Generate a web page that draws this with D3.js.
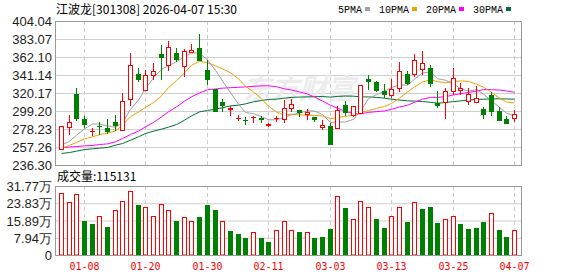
<!DOCTYPE html>
<html>
<head>
<meta charset="utf-8">
<script src="https://cdn.jsdelivr.net/npm/d3@7"></script>
<style>
  body { margin: 0; background: #fff; }
  svg { display: block; }
</style>
</head>
<body>
<script>
const width = 578;
const height = 276;

// trading days shown (60)
const dates = [
  "01-05","01-06","01-07","01-08","01-09","01-12","01-13","01-14","01-15","01-16",
  "01-19","01-20","01-21","01-22","01-23","01-26","01-27","01-28","01-29","01-30",
  "02-02","02-03","02-04","02-05","02-06","02-09","02-10","02-11","02-12","02-13",
  "02-24","02-25","02-26","02-27","03-02","03-03","03-04","03-05","03-06","03-09",
  "03-10","03-11","03-12","03-13","03-16","03-17","03-18","03-19","03-20","03-23",
  "03-24","03-25","03-26","03-27","03-30","03-31","04-01","04-02","04-03","04-07"
];

const open = [
  255.7, 281.3, 319.8, 289.9, 276.4, 282.6, 280.5, 286.4, 277.8, 313.9,
  343.4, 324.4, 341.5, 365.6, 353.1, 367.9, 352.0, 368.3, 372.6, 348.1,
  325.2, 310.8, 302.4, 291.6, 289.3, 292.4, 292.2, 283.8, 291.6, 291.0,
  303.4, 301.5, 296.4, 293.3, 280.9, 282.1, 280.1, 307.3, 295.3, 297.6,
  337.6, 333.3, 323.2, 318.2, 327.1, 343.0, 343.0, 348.9, 350.4, 308.9,
  310.0, 323.2, 324.8, 311.2, 310.4, 301.9, 319.0, 299.9, 291.0, 292.2
];
const high = [
  282.5, 294.9, 326.0, 294.1, 280.5, 287.1, 289.9, 294.9, 321.3, 367.1,
  349.3, 348.1, 356.2, 377.2, 381.1, 373.7, 371.8, 378.4, 390.0, 359.0,
  325.2, 314.3, 305.8, 294.9, 292.6, 294.1, 293.7, 286.0, 294.1, 312.4,
  313.5, 301.5, 302.3, 293.3, 289.5, 286.0, 305.4, 311.2, 305.4, 330.3,
  341.5, 335.3, 331.0, 337.6, 357.0, 346.2, 365.6, 369.1, 353.1, 323.2,
  326.0, 350.4, 332.9, 326.7, 329.1, 305.0, 322.1, 304.6, 294.1, 301.5
];
const low = [
  255.7, 272.8, 289.1, 280.9, 271.6, 273.5, 274.3, 277.4, 277.8, 307.3,
  334.5, 324.4, 337.6, 337.6, 348.1, 357.8, 340.3, 368.3, 359.0, 331.4,
  300.3, 300.3, 294.9, 289.1, 285.2, 287.1, 286.7, 282.1, 287.9, 287.1,
  300.3, 294.1, 290.2, 288.7, 279.0, 261.9, 280.1, 295.3, 294.1, 297.6,
  325.2, 322.9, 316.3, 315.9, 322.9, 331.4, 340.7, 343.4, 329.1, 304.6,
  291.8, 319.4, 319.4, 308.1, 310.4, 292.2, 294.9, 289.1, 286.0, 288.7
];
const close = [
  282.5, 287.1, 292.2, 284.4, 276.9, 282.3, 276.3, 284.0, 312.0, 353.9,
  336.8, 341.9, 346.5, 362.5, 374.9, 360.9, 369.1, 371.0, 359.0, 336.8,
  300.3, 306.5, 302.9, 292.0, 288.9, 292.8, 289.9, 284.1, 292.0, 303.4,
  308.1, 298.3, 298.8, 289.9, 283.2, 261.9, 301.1, 298.8, 305.4, 330.3,
  334.5, 324.8, 320.1, 325.6, 346.5, 332.2, 359.4, 356.2, 332.9, 306.5,
  323.2, 338.4, 327.1, 319.8, 315.1, 296.8, 299.6, 289.1, 286.0, 296.8
];

// volume, in 万 shares
const volume = [
  28.8, 24.5, 28.2, 15.8, 14.4, 18.4, 13.0, 20.8, 25.0, 29.6,
  23.2, 22.2, 18.4, 23.6, 20.8, 15.8, 17.5, 16.1, 17.5, 23.2,
  20.9, 15.7, 11.2, 9.8, 7.9, 11.0, 7.9, 6.0, 11.9, 16.1,
  11.9, 10.7, 11.0, 7.9, 8.4, 12.1, 27.3, 21.9, 17.0, 25.0,
  22.2, 16.7, 12.6, 18.4, 22.2, 15.3, 24.5, 21.4, 22.3, 14.9,
  17.0, 18.4, 14.4, 12.1, 12.6, 15.3, 19.4, 11.6, 8.4, 11.5131
];

// moving-average values before the window is full (history not on screen)
const ma5Head = [260.0, 264.5, 271.5, 279.0];
const ma10Head = [256.3, 259.8, 263.1, 267.2, 269.7, 272.2, 274.1, 276.5, 283.4];
const ma20Head = [257.0, 257.8, 258.4, 259.2, 259.6, 260.7, 261.5, 263.9, 267.7, 272.4,
                  276.3, 281.3, 286.4, 293.0, 298.8, 304.6, 311.2, 316.3, 320.8];
const ma30Head = [250.3, 251.4, 253.0, 254.9, 255.7, 256.5, 257.3, 260.0, 261.9, 265.8,
                  269.7, 273.6, 276.3, 278.6, 281.0, 284.0, 289.1, 294.1, 298.8, 300.4,
                  301.9, 303.5, 305.8, 306.6, 308.1, 310.5, 312.0, 313.2, 313.6];

const priceTicks = ["404.04", "383.07", "362.10", "341.14", "320.17", "299.20", "278.23", "257.26", "236.30"];
const volTicks = ["31.77", "23.83", "15.89", "7.94", "0"];
const maNames = ["5PMA", "10PMA", "20PMA", "30PMA"];
const maPeriods = [5, 10, 20, 30];
const maColors = ["#a0a0a0", "#f0a000", "#ff00ff", "#007030"];

const title = "江波龙[301308] 2026-04-07 15:30";

const RED = "#ff0000";
const GREEN = "#008000";

const svg = d3.select("body").append("svg")
  .attr("width", width)
  .attr("height", height);

// layout
const left = 56, right = 522;
const pTop = 21, pBottom = 165;
const vTop = 186, vBottom = 255;

const x = d3.scaleBand().domain(d3.range(dates.length)).range([57, 518]);
const cx = i => Math.round(x(i) + x.bandwidth() / 2);

const y = d3.scaleLinear()
  .domain([+priceTicks[priceTicks.length - 1], +priceTicks[0]])
  .range([pBottom + 0.5, pTop + 0.5]);
const yv = d3.scaleLinear()
  .domain([0, +volTicks[0]])
  .range([vBottom + 0.5, vTop + 0.5]);

// moving averages
function movingAvg(n, head) {
  return close.map((c, i) => {
    if (i < n - 1) return head[i];
    return d3.mean(close.slice(i - n + 1, i + 1));
  });
}
const heads = [ma5Head, ma10Head, ma20Head, ma30Head];
const maSeries = maPeriods.map((n, k) => movingAvg(n, heads[k]));

// label indices for x axis (every 8th bar)
const labelIdx = d3.range(dates.length).filter(i => i % 8 === 3);

// ---------- grid ----------
const grid = svg.append("g");

// horizontal price grid
grid.selectAll(".pg")
  .data(priceTicks.slice(1, -1))
  .enter().append("line")
  .attr("x1", left).attr("x2", right)
  .attr("y1", d => y(+d)).attr("y2", d => y(+d))
  .attr("stroke", "#cfcfcf");

// horizontal volume grid
grid.selectAll(".vg")
  .data(volTicks.slice(1, -1))
  .enter().append("line")
  .attr("x1", left).attr("x2", right)
  .attr("y1", d => yv(+d)).attr("y2", d => yv(+d))
  .attr("stroke", "#cfcfcf");

// vertical dashed lines
[[pTop, pBottom], [vTop, vBottom]].forEach(([t, b]) => {
  grid.selectAll(null)
    .data(labelIdx)
    .enter().append("line")
    .attr("x1", i => cx(i) + 0.5).attr("x2", i => cx(i) + 0.5)
    .attr("y1", t).attr("y2", b)
    .attr("stroke", "#cccccc")
    .attr("stroke-dasharray", "4,3");
});

// watermark
svg.append("text")
  .attr("x", 243).attr("y", 99)
  .style("font-family", "'Noto Sans CJK SC', sans-serif")
  .style("font-size", "28px")
  .style("font-weight", "bold")
  .style("font-style", "italic")
  .attr("fill", "#ececec")
  .text("东方财富");

// ---------- moving average lines ----------
const line = d3.line()
  .x((d, i) => cx(i) + 0.5)
  .y(d => y(d));

svg.append("g").selectAll("path")
  .data(maSeries.slice().reverse())
  .enter().append("path")
  .attr("d", line)
  .attr("fill", "none")
  .attr("stroke", (d, k) => maColors[maColors.length - 1 - k])
  .attr("stroke-width", 1);

// ---------- candles ----------
const candles = svg.append("g").selectAll("g")
  .data(d3.range(dates.length))
  .enter().append("g");

candles.each(function(i) {
  const g = d3.select(this);
  const up = close[i] >= open[i];
  const col = up ? RED : GREEN;
  const xc = cx(i);
  g.append("line")
    .attr("x1", xc + 0.5).attr("x2", xc + 0.5)
    .attr("y1", Math.round(y(high[i]))).attr("y2", Math.round(y(low[i])) + 1)
    .attr("stroke", col);
  const yo = Math.round(y(open[i])), yc = Math.round(y(close[i]));
  if (Math.abs(yo - yc) < 1) {
    g.append("line")
      .attr("x1", xc - 2).attr("x2", xc + 3)
      .attr("y1", yc + 0.5).attr("y2", yc + 0.5)
      .attr("stroke", col);
  } else if (up) {
    g.append("rect")
      .attr("x", xc - 1.5).attr("y", yc + 0.5)
      .attr("width", 4).attr("height", yo - yc)
      .attr("fill", "#fff").attr("stroke", col);
  } else {
    g.append("rect")
      .attr("x", xc - 2).attr("y", yo)
      .attr("width", 5).attr("height", yc - yo + 1)
      .attr("fill", col);
  }
});

// ---------- volume bars ----------
svg.append("g").selectAll("rect")
  .data(d3.range(dates.length))
  .enter().append("rect")
  .each(function(i) {
    const prev = i === 0 ? open[0] : close[i - 1];
    const up = close[i] >= prev;
    const top = Math.round(yv(volume[i]));
    const r = d3.select(this);
    if (up) {
      r.attr("x", cx(i) - 1.5).attr("y", top + 0.5)
        .attr("width", 4).attr("height", vBottom - top - 0.5)
        .attr("fill", "#fff").attr("stroke", RED);
    } else {
      r.attr("x", cx(i) - 2).attr("y", top)
        .attr("width", 5).attr("height", vBottom - top)
        .attr("fill", GREEN);
    }
  });

// ---------- frames ----------
svg.append("rect")
  .attr("x", left - 0.5).attr("y", pTop + 0.5)
  .attr("width", right - left).attr("height", pBottom - pTop)
  .attr("fill", "none").attr("stroke", "#999");
svg.append("rect")
  .attr("x", left - 0.5).attr("y", vTop + 0.5)
  .attr("width", right - left).attr("height", vBottom - vTop)
  .attr("fill", "none").attr("stroke", "#999");

// ---------- axes ----------
const axisFont = "'Liberation Sans', Arial, sans-serif";

const yAxis = svg.append("g")
  .attr("transform", `translate(${left - 1},0)`)
  .call(d3.axisLeft(y)
    .tickValues(priceTicks.map(Number))
    .tickFormat(d3.format(".2f"))
    .tickSize(0).tickPadding(3));
yAxis.select(".domain").remove();
yAxis.selectAll("text")
  .style("font-family", axisFont).style("font-size", "13px").attr("fill", "#1e1e1e");

const vAxis = svg.append("g")
  .attr("transform", `translate(${left - 1},0)`)
  .call(d3.axisLeft(yv)
    .tickValues(volTicks.map(Number))
    .tickFormat(d => d === 0 ? "0" : d.toFixed(2) + "万")
    .tickSize(0).tickPadding(3));
vAxis.select(".domain").remove();
vAxis.selectAll("text")
  .style("font-family", axisFont).style("font-size", "13px").attr("fill", "#1e1e1e");

// date labels
svg.append("g").selectAll("text")
  .data(labelIdx)
  .enter().append("text")
  .attr("x", i => cx(i) + 0.5)
  .attr("y", 270)
  .attr("text-anchor", "middle")
  .style("font-family", "'DejaVu Sans Mono', monospace")
  .style("font-size", "10px")
  .attr("fill", RED)
  .text(i => dates[i]);

// ---------- title & legend ----------
svg.append("text")
  .attr("x", 56).attr("y", 14)
  .style("font-family", "'Noto Sans CJK SC', sans-serif")
  .style("font-size", "12px")
  .attr("fill", "#000")
  .text(title);

const legend = svg.append("g");
let lx = 338;
maNames.forEach((name, k) => {
  const t = legend.append("text")
    .attr("x", lx).attr("y", 13)
    .style("font-family", "'Liberation Mono', monospace")
    .style("font-size", "10px")
    .attr("fill", "#000")
    .text(name);
  const w = t.node().getComputedTextLength();
  legend.append("rect")
    .attr("x", Math.round(lx + w + 3)).attr("y", 7)
    .attr("width", 5).attr("height", 4)
    .attr("fill", maColors[k]);
  lx = Math.round(lx + w + 3 + 5 + 9);
});

svg.append("text")
  .attr("x", 57).attr("y", 181)
  .style("font-family", "'Noto Sans CJK SC', sans-serif")
  .style("font-size", "12px")
  .attr("fill", "#000")
  .text("成交量:" + Math.round(volume[volume.length - 1] * 10000));
</script>
</body>
</html>
